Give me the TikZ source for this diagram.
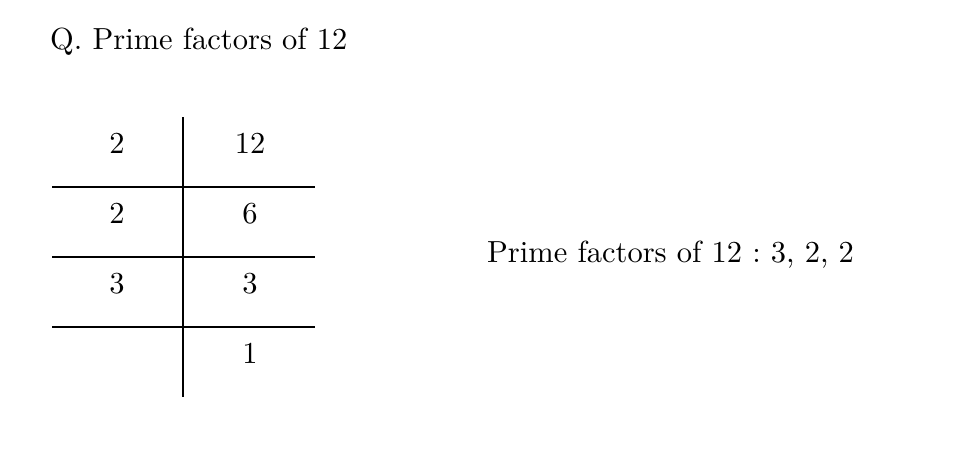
\documentclass[tikz,border=0pt]{standalone}
\usepackage{fontspec}
\setmainfont{lmroman10-regular}[Extension=.otf]
\frenchspacing
\begin{document}
\begin{tikzpicture}[x=1pt,y=1pt,
  txt/.style={inner sep=0pt,font=\fontsize{30.5}{36}\selectfont},
  rule/.style={line width=1.6pt}]
\useasboundingbox (0,0) rectangle (978,-472);
\node[txt,anchor=base west] (title) at (50,-49) {Q. Prime factors of 12};
\coordinate (vt) at (183,-117);
\coordinate (vb) at (183,-397);
\draw[rule] (vt) -- (vb);
\coordinate (h1l) at (52,-187); \coordinate (h1r) at (315,-187);
\coordinate (h2l) at (52,-257); \coordinate (h2r) at (315,-257);
\coordinate (h3l) at (52,-327); \coordinate (h3r) at (315,-327);
\draw[rule] (h1l) -- (h1r);
\draw[rule] (h2l) -- (h2r);
\draw[rule] (h3l) -- (h3r);
\node[txt,anchor=base] (a1) at (117,-153) {2};
\node[txt,anchor=base] (b1) at (250,-153) {12};
\node[txt,anchor=base] (a2) at (117,-223) {2};
\node[txt,anchor=base] (b2) at (250,-223) {6};
\node[txt,anchor=base] (a3) at (117,-293) {3};
\node[txt,anchor=base] (b3) at (250,-293) {3};
\node[txt,anchor=base] (b4) at (250,-363) {1};
\node[txt,anchor=base west] (res) at (487,-262) {Prime factors of 12 : 3, 2, 2};
\end{tikzpicture}
\end{document}
